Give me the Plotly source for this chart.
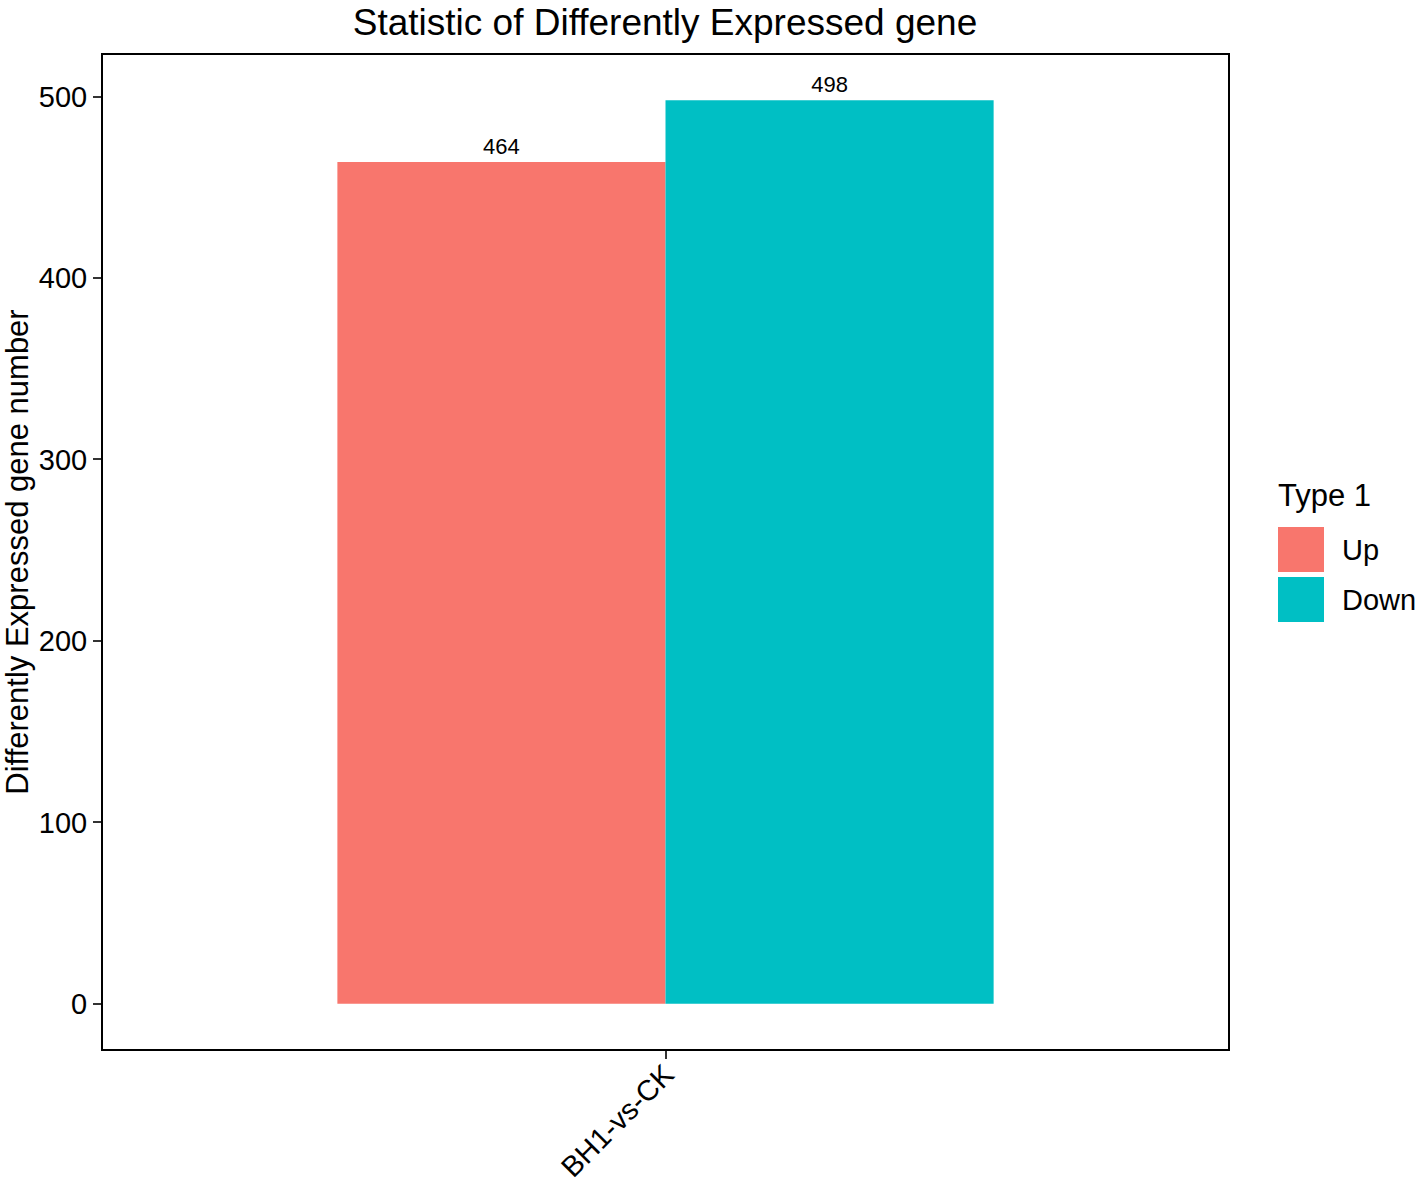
import plotly.graph_objects as go

categories = ["BH1-vs-CK"]
types = ["Up", "Down"]
up_values = [464]
down_values = [498]
colors = ["#F8766D", "#00BFC4"]
y_ticks = [0, 100, 200, 300, 400, 500]

FONT = "Liberation Sans, Arial, Helvetica, sans-serif"

fig = go.Figure()
for name, vals, col in zip(types, [up_values, down_values], colors):
    fig.add_trace(go.Bar(
        x=categories, y=vals, name=name, marker=dict(color=col, line=dict(width=0)),
        text=[str(v) for v in vals], textposition="outside",
        textfont=dict(family=FONT, size=22, color="black"),
        cliponaxis=False, showlegend=False,
    ))

W, H = 1416, 1182
# plot area in page pixels: x 103..1228, y 55..1049
L, T = 103, 55
pw, ph = 1228 - 103, 1049 - 55
R = W - L - pw
B = H - T - ph

def px(x):
    return (x - L) / pw

def py(y):
    return (T + ph - y) / ph

shapes = []
annotations = []
annotations.append(dict(x=px(1276), y=py(495), xref="paper", yref="paper", text="Type 1",
                        showarrow=False, xanchor="left", yanchor="middle",
                        font=dict(family=FONT, size=31, color="black")))
key_tops = [527, 577]
for name, col, top in zip(types, colors, key_tops):
    shapes.append(dict(type="rect", xref="paper", yref="paper",
                       x0=px(1278), x1=px(1324), y0=py(top + 45), y1=py(top),
                       fillcolor=col, line=dict(width=0)))
    annotations.append(dict(x=px(1340), y=py(top + 23), xref="paper", yref="paper", text=name,
                            showarrow=False, xanchor="left", yanchor="middle",
                            font=dict(family=FONT, size=29, color="black")))

fig.update_layout(
    width=W, height=H,
    margin=dict(l=L, r=R, t=T, b=B, pad=0, autoexpand=False),
    paper_bgcolor="white", plot_bgcolor="white",
    barmode="group", bargap=0.3, bargroupgap=0,
    font=dict(family=FONT, color="black"),
    title=dict(text="Statistic of Differently Expressed gene", xref="container", x=665 / W,
               xanchor="center", yref="container", y=1 - 22 / H, yanchor="middle",
               font=dict(family=FONT, size=37, color="black")),
    shapes=shapes, annotations=annotations,
    showlegend=False,
)
fig.update_xaxes(type="category", range=[-0.6, 0.6], showline=True, linecolor="black", linewidth=2,
                 mirror=True, ticks="outside", ticklen=8, tickwidth=2, tickcolor="#333333",
                 tickangle=-45, tickfont=dict(family=FONT, size=29, color="black"),
                 ticklabelstandoff=-13,
                 showgrid=False, zeroline=False, automargin=False)
fig.update_yaxes(range=[-24.9, 522.9], tickvals=y_ticks, showline=True, linecolor="black", linewidth=2,
                 mirror=True, ticks="outside", ticklen=8, tickwidth=2, tickcolor="#333333",
                 tickfont=dict(family=FONT, size=29, color="black"),
                 title=dict(text="Differently Expressed gene number", standoff=10,
                            font=dict(family=FONT, size=31, color="black")),
                 showgrid=False, zeroline=False, automargin=False)

fig.write_html("out.html", config={"displayModeBar": False},
               post_script="document.body.style.margin='0';document.body.style.overflow='hidden';")
